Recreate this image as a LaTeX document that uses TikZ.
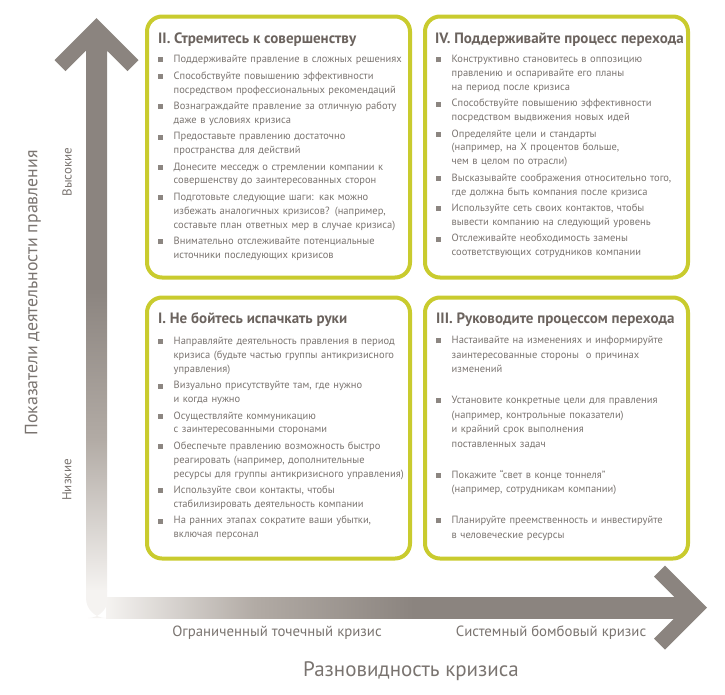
\documentclass[tikz,border=0pt]{standalone}
\usepackage{fontspec}
\setmainfont{PT Sans}

\definecolor{quadline}{RGB}{201,203,46}
\definecolor{axgray}{RGB}{139,132,127}
\definecolor{axmid}{RGB}{178,171,165}
\definecolor{axlight}{RGB}{245,243,241}
\definecolor{txtgray}{RGB}{122,116,112}
\definecolor{ttlgray}{RGB}{107,99,94}
\definecolor{bulgray}{RGB}{140,134,129}

\pgfdeclareverticalshading{vfade}{100bp}{color(0bp)=(axlight); color(25bp)=(axlight);
  color(39bp)=(axmid); color(53bp)=(axgray); color(100bp)=(axgray)}
\pgfdeclarehorizontalshading{hfade}{100bp}{color(0bp)=(axlight); color(25bp)=(axlight);
  color(38bp)=(axmid); color(52bp)=(axgray); color(100bp)=(axgray)}

\newcommand{\bsq}{\makebox[15.5pt][l]{\textcolor{bulgray}{\rule[0.3pt]{5pt}{5pt}}}}
\newcommand{\ind}{\hspace*{15.5pt}}

\tikzset{
  quad/.style = {draw=quadline, line width=4pt, rounded corners=15pt,
    minimum width=263pt, minimum height=261pt, inner sep=0pt},
  qtitle/.style = {anchor=base west, inner sep=0pt, text=ttlgray,
    font=\fontsize{15}{17}\selectfont\bfseries},
  qlist/.style = {anchor=base west, inner sep=0pt, text=txtgray, text width=300pt,
    align=left, font=\fontsize{10.5}{13.8}\selectfont},
  axlab/.style = {text=txtgray, inner sep=0pt}
}

\begin{document}
\begin{tikzpicture}[x=1pt,y=-1pt]
  \useasboundingbox (0,0) rectangle (725,694);

  % axes
  \shade[shading=vfade] (86,591) rectangle (107,49);
  \shade[shading=hfade] (106,597) rectangle (676,618);
  \fill[axlight] (107,590) -- (86,590) {[rounded corners=20pt] -- (86,618) -- (108,618)}
    -- (108,597) -- (107,597) -- cycle;
  \fill[axgray] (96.5,18) -- (138.5,60) -- (127.5,71) -- (107,50.5) -- (107,52)
    -- (86,52) -- (86,50.5) -- (65.5,71) -- (54.5,60) -- cycle;
  \fill[axgray] (707,607.5) -- (665,649.5) -- (654,638.5) -- (674.5,618) -- (673,618)
    -- (673,597) -- (674.5,597) -- (654,576.5) -- (665,565.5) -- cycle;

  \node[axlab, rotate=90, font=\fontsize{17.8}{20}\selectfont] (ylab) at (33,293)
    {Показатели деятельности правления};
  \node[axlab, rotate=90, font=\fontsize{13}{15}\selectfont] (yhi) at (67,172) {Высокие};
  \node[axlab, rotate=90, font=\fontsize{13}{15}\selectfont] (ylo) at (67,480) {Низкие};
  \node[axlab, font=\fontsize{14.8}{17}\selectfont] (xlo) at (277,633) {Ограниченный точечный кризис};
  \node[axlab, font=\fontsize{14.8}{17}\selectfont] (xhi) at (551,633) {Системный бомбовый кризис};
  \node[axlab, font=\fontsize{21}{24}\selectfont] (xlab) at (411,671) {Разновидность кризиса};

  % quadrants
  \node[quad] (q2) at (278.5,147) {};
  \node[quad] (q4) at (556.5,147) {};
  \node[quad] (q1) at (278.5,428) {};
  \node[quad] (q3) at (556.5,428) {};

  \node[qtitle] (q2t) at (158,43) {II. Стремитесь к совершенству};
  \node[qlist] (q2l) at (158,62.7) {%
    \bsq Поддерживайте правление в сложных решениях\\[2.7pt]
    \bsq Способствуйте повышению эффективности\\
    \ind посредством профессиональных рекомендаций\\[2.7pt]
    \bsq Вознаграждайте правление за отличную работу\\
    \ind даже в условиях кризиса\\[2.7pt]
    \bsq Предоставьте правлению достаточно\\
    \ind пространства для действий\\[2.7pt]
    \bsq Донесите месседж о стремлении компании к\\
    \ind совершенству до заинтересованных сторон\\[2.7pt]
    \bsq Подготовьте следующие шаги: как можно\\
    \ind избежать аналогичных кризисов? (например,\\
    \ind составьте план ответных мер в случае кризиса)\\[2.7pt]
    \bsq Внимательно отслеживайте потенциальные\\
    \ind источники последующих кризисов};

  \node[qtitle] (q4t) at (435,43) {IV. Поддерживайте процесс перехода};
  \node[qlist] (q4l) at (436,62.7) {%
    \bsq Конструктивно становитесь в оппозицию\\
    \ind правлению и оспаривайте его планы\\
    \ind на период после кризиса\\[2.7pt]
    \bsq Способствуйте повышению эффективности\\
    \ind посредством выдвижения новых идей\\[2.7pt]
    \bsq Определяйте цели и стандарты\\
    \ind (например, на X процентов больше,\\
    \ind чем в целом по отрасли)\\[2.7pt]
    \bsq Высказывайте соображения относительно того,\\
    \ind где должна быть компания после кризиса\\[2.7pt]
    \bsq Используйте сеть своих контактов, чтобы\\
    \ind вывести компанию на следующий уровень\\[2.7pt]
    \bsq Отслеживайте необходимость замены\\
    \ind соответствующих сотрудников компании};

  \node[qtitle] (q1t) at (158,323) {I. Не бойтесь испачкать руки};
  \node[qlist] (q1l) at (158,344.7) {%
    \bsq Направляйте деятельность правления в период\\
    \ind кризиса (будьте частью группы антикризисного\\
    \ind управления)\\[2.7pt]
    \bsq Визуально присутствуйте там, где нужно\\
    \ind и когда нужно\\[2.7pt]
    \bsq Осуществляйте коммуникацию\\
    \ind с заинтересованными сторонами\\[2.7pt]
    \bsq Обеспечьте правлению возможность быстро\\
    \ind реагировать (например, дополнительные\\
    \ind ресурсы для группы антикризисного управления)\\[2.7pt]
    \bsq Используйте свои контакты, чтобы\\
    \ind стабилизировать деятельность компании\\[2.7pt]
    \bsq На ранних этапах сократите ваши убытки,\\
    \ind включая персонал};

  \node[qtitle] (q3t) at (436,323) {III. Руководите процессом перехода};
  \node[qlist, font=\fontsize{10.5}{14.5}\selectfont] (q3l) at (436,343.7) {%
    \bsq Настаивайте на изменениях и информируйте\\
    \ind заинтересованные стороны\ \ о причинах\\
    \ind изменений\\[16.5pt]
    \bsq Установите конкретные цели для правления\\
    \ind (например, контрольные показатели)\\
    \ind и крайний срок выполнения\\
    \ind поставленных задач\\[16.5pt]
    \bsq Покажите “свет в конце тоннеля”\\
    \ind (например, сотрудникам компании)\\[16.5pt]
    \bsq Планируйте преемственность и инвестируйте\\
    \ind в человеческие ресурсы};
\end{tikzpicture}
\end{document}
